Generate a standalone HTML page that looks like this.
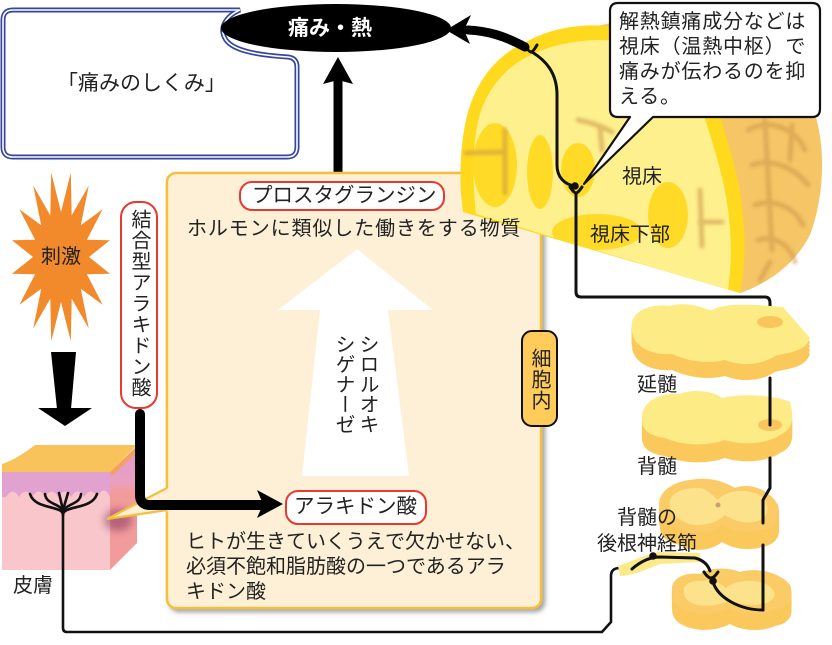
<!DOCTYPE html>
<html><head><meta charset="utf-8">
<style>
html,body{margin:0;padding:0;background:#fff;}
#w{position:relative;width:832px;height:645px;overflow:hidden;background:#fff;}
svg{position:absolute;left:0;top:0;}
.t{position:absolute;font-family:"Liberation Sans","Noto Sans CJK JP",sans-serif;font-size:20px;line-height:20px;color:#222;white-space:nowrap;}
.v{writing-mode:vertical-rl;}
</style></head><body><div id="w">
<svg width="832" height="645" viewBox="0 0 832 645">
<defs>
 <filter id="sh" x="-5%" y="-5%" width="115%" height="115%"><feDropShadow dx="3" dy="3" stdDeviation="2.5" flood-color="#555" flood-opacity="0.55"/></filter>
 <filter id="bl" x="-20%" y="-20%" width="140%" height="140%"><feGaussianBlur stdDeviation="1.5"/></filter>
 <filter id="bl2" x="-50%" y="-50%" width="200%" height="200%"><feGaussianBlur stdDeviation="4"/></filter>
 <linearGradient id="rf" x1="0" y1="448" x2="0" y2="570" gradientUnits="userSpaceOnUse">
  <stop offset="0" stop-color="#E49ACB"/><stop offset="0.28" stop-color="#E9A0C2"/><stop offset="0.36" stop-color="#F29B9B"/><stop offset="1" stop-color="#F29B9B"/>
 </linearGradient>
 <clipPath id="bc"><path d="M440,0 H832 V300 L740,293 L463,212 Z"/></clipPath>
 <path id="s1" d="M632,330 C628,312 650,303 670,306 C690,300 705,310 712,310 C725,302 760,305 783,307 L810,338 C805,352 790,352 775,356 C760,366 740,366 725,360 C705,365 685,360 672,354 C650,356 632,345 632,330 Z"/>
 <path id="s2" d="M642,420 C640,402 660,392 680,394 C695,388 715,392 722,398 C740,393 775,395 790,402 C795,420 792,430 780,435 C765,445 740,445 725,440 C705,447 680,445 665,438 C650,436 642,430 642,420 Z"/>
 <path id="s3" d="M660,510 C655,495 670,482 690,480 C710,476 725,482 735,488 C750,482 770,490 778,505 C782,520 775,528 762,530 C745,535 730,530 722,525 C710,535 690,535 680,528 C665,525 660,518 660,510 Z"/>
 <path id="s4" d="M672,592 C670,578 685,572 700,574 C712,566 730,568 740,572 C755,567 780,572 790,585 C795,600 788,608 775,610 C760,617 740,614 730,608 C715,616 695,615 685,610 C675,606 672,600 672,592 Z"/>
</defs>

<!-- left callout (double line) -->
<path d="M13,10 H240 C226,16 218,28 226,40 C234,51 258,55 288,57 Q297,58 297,67 V147 Q297,157 287,157 H13 Q3,157 3,147 V20 Q3,10 13,10 Z" fill="#fff" stroke="#34459B" stroke-width="5"/>
<path d="M13,10 H240 C226,16 218,28 226,40 C234,51 258,55 288,57 Q297,58 297,67 V147 Q297,157 287,157 H13 Q3,157 3,147 V20 Q3,10 13,10 Z" fill="none" stroke="#fff" stroke-width="1.6"/>

<!-- ellipse -->
<ellipse cx="336" cy="28" rx="115" ry="24" fill="#000"/>
<!-- up arrow -->
<line x1="338" y1="172" x2="338" y2="80" stroke="#000" stroke-width="9" stroke-linecap="round"/>
<polygon points="338,57 323,84 338,80 353,84" fill="#000"/>

<!-- central box -->
<rect x="167" y="173" width="374" height="435" rx="9" fill="#FDF0D6" stroke="#F4C03A" stroke-width="2.5" filter="url(#sh)"/>

<!-- skin -->
<rect x="2" y="472" width="108" height="98" fill="#F9C6CC"/>
<path d="M2,472 H110 V497 Q104,484 97,497 Q91,486 84,497 Q78,486 71,497 Q65,486 58,497 Q52,486 45,497 Q39,486 32,497 Q26,486 19,497 Q13,486 6,497 L2,497 Z" fill="#E1A2D0"/>
<path d="M2,472 L2,464 C14,460 26,452 35,445 L137,445 L110,472 Z" fill="#F9C35B"/>
<path d="M110,472 L137,446 L137,543 L110,570 Z" fill="url(#rf)"/>
<path d="M110,472 L137,446 L137,452 L112,476 Z" fill="#F4A15A"/>
<ellipse cx="118" cy="520" rx="14" ry="11" fill="#6A2050" opacity="0.45" filter="url(#bl2)"/>
<!-- tail -->
<polygon points="170,487 107,519 170,511" fill="#FDF0D6"/>
<polyline points="167,488 107,519 167,510" fill="none" stroke="#F4C03A" stroke-width="2.2"/>

<!-- nerve tree and long line -->
<g fill="none" stroke="#111" stroke-width="2.6" stroke-linecap="round">
 <path d="M63,515 C63,505 35,510 30,494"/>
 <path d="M63,512 C61,503 46,505 45,494"/>
 <path d="M63,510 L59,493"/>
 <path d="M63,510 L68,493"/>
 <path d="M63,512 C66,503 80,505 81,494"/>
 <path d="M63,515 C63,505 92,510 97,494"/>
 <path d="M63,510 L63,628 Q63,632 67,632 L602,632 L611,622 L611,576 Q611,568 620,568 L632,568"/>
</g>

<!-- starburst -->
<polygon fill="#F28A2C" points="61,212 70.8,172.6 71.7,215.4 88.8,185.5 80.8,225.2 102.6,209.2 86.9,239.8 110,240.2 89,257 110,273.8 86.9,274.2 102.6,304.8 80.8,288.8 88.8,328.5 71.7,298.6 70.8,341.4 61,302 51.2,341.4 50.3,298.6 33.2,328.5 41.2,288.8 19.4,304.8 35.1,274.2 12,273.8 33,257 12,240.2 35.1,239.8 19.4,209.2 41.2,225.2 33.2,185.5 50.3,215.4 51.2,172.6"/>
<!-- down arrow -->
<polygon points="51,352 76,352 71,409 57,409" fill="#000"/>
<polygon points="38,408 92,408 65,426" fill="#000"/>

<!-- pills -->
<rect x="121" y="202" width="36" height="206" rx="15" fill="#fff" stroke="#E8392F" stroke-width="2"/>
<rect x="240" y="182" width="204" height="28" rx="12" fill="#fff" stroke="#E8392F" stroke-width="2"/>
<rect x="286" y="491" width="140" height="33" rx="12" fill="#fff" stroke="#E8392F" stroke-width="2"/>
<rect x="522" y="331" width="35" height="95" rx="10" fill="#FFCB5B" stroke="#111" stroke-width="2"/>

<!-- white arrow -->
<polygon points="357,249 433,310 388,310 409,476 302,476 320,310 278,310" fill="#fff"/>

<!-- L arrow -->
<path d="M140,414 L140,495 Q140,505 150,505 L262,505" fill="none" stroke="#000" stroke-width="10" stroke-linecap="round"/>
<polygon points="283,504 257,490 263,504 257,518" fill="#000"/>

<!-- brain -->
<g clip-path="url(#bc)">
 <path d="M590,28 C660,8 745,18 792,70 C826,110 830,180 810,235 C796,262 772,282 738,294 L590,258 Z" fill="#F6C565"/>
 <g fill="none" stroke="#C8924A" stroke-width="5" stroke-linecap="round" opacity="0.5" filter="url(#bl)">
  <path d="M735,105 C745,90 770,85 790,100"/>
  <path d="M748,130 C770,118 795,128 805,150"/>
  <path d="M752,165 C772,158 795,168 808,185"/>
  <path d="M755,205 C775,198 795,208 803,225"/>
  <path d="M765,120 L772,250"/>
  <path d="M758,240 C775,235 790,245 795,262"/>
  <path d="M790,160 L792,125"/>
  <path d="M760,280 L770,262"/>
 </g>
 <path d="M463,215 C458,180 460,130 472,100 C484,70 505,50 530,40 C545,32 560,28 580,26 C620,22 665,38 695,62 C712,80 718,110 730,150 C742,190 750,240 740,294 Z" fill="#FFD91E"/>
 <path d="M476,214 C472,180 472,135 482,108 C493,80 512,63 535,53 C555,44 580,40 600,40 C635,40 668,55 685,75 C698,95 706,120 716,155 C728,195 735,240 728,290 Z" fill="#FEF08C"/>
 <ellipse cx="495" cy="165" rx="22" ry="42" fill="#FFDB28"/>
 <ellipse cx="540" cy="172" rx="13" ry="37" fill="#FFDB28"/>
 <ellipse cx="578" cy="170" rx="17" ry="27" fill="#FFDB28"/>
 <ellipse cx="597" cy="232" rx="45" ry="18" fill="#FFDB28"/>
 <ellipse cx="668" cy="215" rx="20" ry="33" fill="#FFDB28"/>
 <g fill="none" stroke="#C8924A" stroke-width="5" stroke-linecap="round" opacity="0.55" filter="url(#bl)">
  <path d="M466,153 L505,152"/>
  <path d="M505,130 L505,193"/>
  <path d="M578,120 C595,123 605,128 612,132"/>
  <path d="M600,128 L602,150"/>
  <path d="M700,190 L702,246"/>
  <path d="M700,222 L722,222"/>
 </g>
</g>

<!-- brain neuron -->
<g fill="none" stroke="#111" stroke-width="3" stroke-linecap="round">
 <path d="M532,52 C545,60 557,72 557,95 L557,165 C557,178 565,184 574,186"/>
 <path d="M525,45 Q529,52 531,52 Q533,52 537,45"/>
 <path d="M570,187 Q574,193 576,193 Q578,193 582,187"/>
 <path d="M576,193 L576,292 Q576,297 581,297 L765,297 Q770,297 770,303 L770,322"/>
</g>
<circle cx="575" cy="186" r="3.8" fill="#111"/>
<!-- top curved arrow -->
<path d="M525,47 C505,36 488,31 468,30" fill="none" stroke="#000" stroke-width="9" stroke-linecap="round"/>
<polygon points="446,30 471,15 464,30 470,44" fill="#000"/>

<!-- right callout -->
<path d="M618,3 H812 Q820,3 820,11 V109 Q820,117 812,117 H653 L584,184 L630,117 H618 Q610,117 610,109 V11 Q610,3 618,3 Z" fill="#fff" stroke="#111" stroke-width="2.2" stroke-linejoin="round"/>

<!-- spinal slabs -->
<g fill="#FBC85C"><use href="#s1" y="4"/><use href="#s1" y="8"/><use href="#s1" y="12"/><use href="#s1" y="16"/></g>
<use href="#s1" fill="#FDEB85"/>
<ellipse cx="770" cy="322" rx="13" ry="6" fill="#F9C55C"/>
<g fill="#FBC85C"><use href="#s2" y="5"/><use href="#s2" y="10"/><use href="#s2" y="14"/><use href="#s2" y="18"/></g>
<use href="#s2" fill="#FDEB85"/>
<ellipse cx="770" cy="425" rx="12" ry="6" fill="#F9C55C"/>
<g fill="#FBC85C"><use href="#s3" y="5"/><use href="#s3" y="10"/><use href="#s3" y="14"/><use href="#s3" y="17"/></g>
<use href="#s3" fill="#FACB66"/>
<path d="M670,505 C668,495 680,488 695,488 C705,486 712,495 718,500 C726,490 745,488 760,495 C770,503 770,515 760,520 C750,525 735,522 725,515 C715,525 695,528 685,522 C675,518 670,512 670,505 Z" fill="#FDE28C"/>
<circle cx="718" cy="505" r="2.5" fill="#C9A070"/>
<g fill="#FBC85C"><use href="#s4" y="4"/><use href="#s4" y="8"/><use href="#s4" y="12"/><use href="#s4" y="16"/></g>
<use href="#s4" fill="#FACB66"/>
<path d="M684,592 C682,584 692,580 702,581 C712,578 720,583 726,588 C735,580 755,578 768,585 C778,592 776,600 766,603 C752,607 738,604 730,600 C718,607 700,607 692,603 C686,600 684,597 684,592 Z" fill="#FDE28C"/>

<!-- ganglion -->
<path d="M618,566 C630,562 645,555 658,552 L700,553 L700,562 L660,564 C645,570 632,576 620,576 Z" fill="#FCE98A"/>

<!-- spinal lines -->
<g fill="none" stroke="#111" stroke-width="3" stroke-linecap="round">
 <path d="M770,378 L770,425"/>
 <path d="M770,458 L770,488 L763,500 L763,523"/>
 <path d="M763,545 L763,610"/>
 <path d="M632,569 C640,562 650,557 660,557 L695,558 C703,560 708,565 710,571"/>
 <path d="M704,572 Q708,578 711,578 Q714,578 718,572"/>
 <path d="M713,582 C718,598 740,610 763,610"/>
</g>
<circle cx="653" cy="556" r="3.8" fill="#111"/>
<circle cx="713" cy="581" r="3.8" fill="#111"/>
</svg>

<div class="t" style="left:57px;top:73px;font-size:21px;line-height:21px;">「痛みのしくみ」</div>
<div class="t" style="left:288px;top:18px;font-size:21px;line-height:21px;color:#fff;font-weight:bold;">痛み・熱</div>
<div class="t" style="left:619px;top:10px;line-height:25px;letter-spacing:0.8px;">解熱鎮痛成分などは<br>視床（温熱中枢）で<br>痛みが伝わるのを抑<br>える。</div>
<div class="t" style="left:622px;top:167px;">視床</div>
<div class="t" style="left:590px;top:225px;">視床下部</div>
<div class="t" style="left:252px;top:186px;font-size:20.5px;">プロスタグランジン</div>
<div class="t" style="left:187px;top:219px;letter-spacing:0.9px;">ホルモンに類似した働きをする物質</div>
<div class="t v" style="left:129px;top:209px;letter-spacing:1px;">結合型アラキドン酸</div>
<div class="t" style="left:41px;top:247px;">刺激</div>
<div class="t v" style="left:331px;top:334px;line-height:24px;">シロルオキ<br>シゲナーゼ</div>
<div class="t v" style="left:529px;top:348px;letter-spacing:1px;">細胞内</div>
<div class="t" style="left:294px;top:497px;font-size:20.5px;">アラキドン酸</div>
<div class="t" style="left:186px;top:530px;line-height:25px;">ヒトが生きていくうえで欠かせない、<br>必須不飽和脂肪酸の一つであるアラ<br>キドン酸</div>
<div class="t" style="left:13px;top:576px;">皮膚</div>
<div class="t" style="left:637px;top:375px;">延髄</div>
<div class="t" style="left:637px;top:457px;">背髄</div>
<div class="t" style="left:587px;top:505px;width:120px;text-align:center;line-height:26px;">背髄の<br>後根神経節</div>
</div></body></html>
